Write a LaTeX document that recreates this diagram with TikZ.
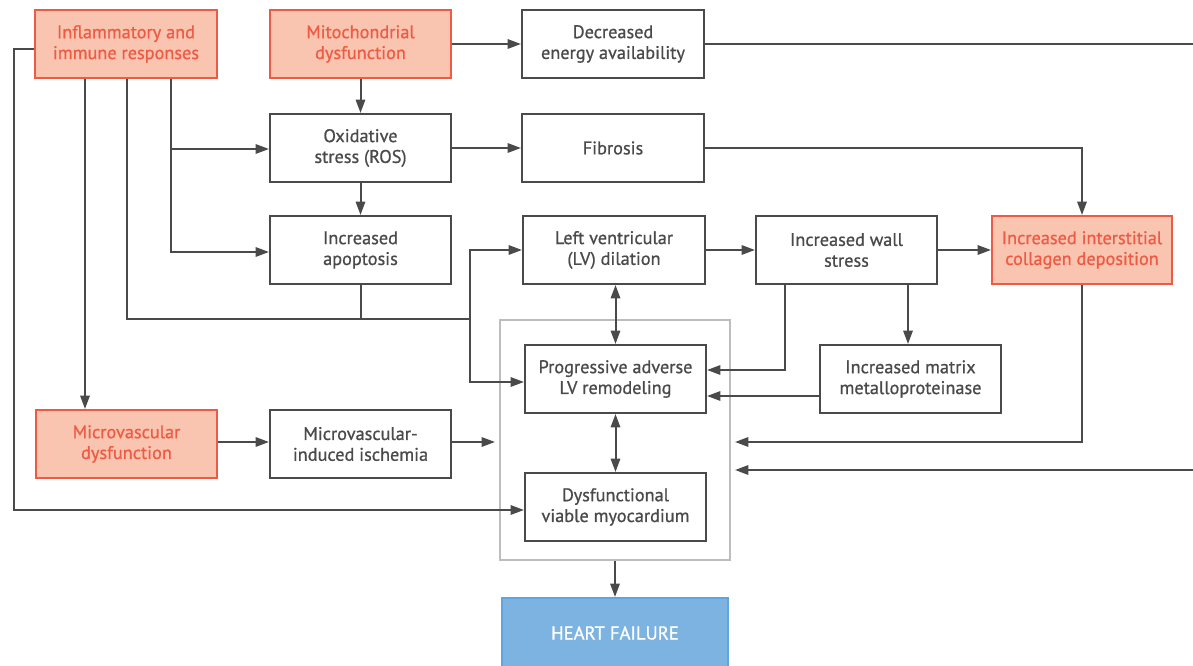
\documentclass[tikz,border=0pt]{standalone}
\usepackage{fontspec}
\setmainfont{PT Sans}[FakeBold=0.8]
\usetikzlibrary{arrows.meta,calc}
\definecolor{salfill}{HTML}{FAC5B0}
\definecolor{salline}{HTML}{EE5B45}
\definecolor{saltext}{HTML}{EE5B45}
\definecolor{dk}{HTML}{4A4A4A}
\definecolor{gbox}{HTML}{BDBDBD}
\definecolor{hffill}{HTML}{7DB3E0}
\definecolor{hfline}{HTML}{5FA5E0}
\def\px{0.75pt}
\begin{document}
\begin{tikzpicture}[x=0.75pt,y=-0.75pt,
  box/.style={draw=dk, line width=1.5pt, fill=white, text=dk, align=center,
    font=\fontsize{13.7}{15.6}\selectfont, inner sep=0pt,
    minimum width=181*\px, minimum height=68*\px},
  redbox/.style={box, draw=salline, fill=salfill, text=saltext},
  graybox/.style={draw=gbox, line width=1.5pt, inner sep=0pt,
    minimum width=230*\px, minimum height=240*\px},
  hfbox/.style={draw=hfline, line width=1.5pt, fill=hffill, text=white,
    font=\fontsize{14}{15.6}\selectfont, inner sep=0pt,
    minimum width=226*\px, minimum height=70*\px},
  conn/.style={draw=dk, line width=1.5pt},
  arr/.style={conn, -{Triangle[length=10pt,width=7pt]}},
  darr/.style={conn, {Triangle[length=10pt,width=7pt]}-{Triangle[length=10pt,width=7pt]}}
]
\useasboundingbox (0,0) rectangle (1193,666);

\node[graybox] (gray) at (615,440) {};

\node[redbox, minimum width=182*\px] (infl) at (126,44) {Inflammatory and\\immune responses};
\node[redbox] (mito) at (360.5,44) {Mitochondrial\\dysfunction};
\node[box, minimum width=182*\px] (energy) at (613,44) {Decreased\\energy availability};
\node[box] (ox) at (360.5,148) {Oxidative\\stress (ROS)};
\node[box, minimum width=182*\px] (fib) at (613,148) {Fibrosis};
\node[box] (apop) at (360.5,250) {Increased\\apoptosis};
\node[box, minimum width=182*\px] (lvd) at (614,250) {Left ventricular\\(LV) dilation};
\node[box] (wall) at (846.5,250) {Increased wall\\stress};
\node[redbox, minimum width=180*\px] (coll) at (1082,250) {Increased interstitial\\collagen deposition};
\node[box] (prog) at (615.5,379) {Progressive adverse\\LV remodeling};
\node[box] (mmp) at (910.5,379) {Increased matrix\\metalloproteinase};
\node[redbox] (mvd) at (126.5,444) {Microvascular\\dysfunction};
\node[box] (isch) at (360.5,444) {Microvascular-\\induced ischemia};
\node[box] (dvm) at (615.5,507) {Dysfunctional\\viable myocardium};
\node[hfbox] (hf) at (615,633) {HEART FAILURE};

\coordinate (eR1) at (1193,44);
\coordinate (eR2) at (1193,470);
\coordinate (j) at (470,319);

% top row
\draw[arr] (mito.east) -- (energy.west);
\draw[conn] (energy.east) -- (eR1);
\draw[arr] (mito.south) -- (ox.north);

% inflammatory branches
\draw[arr] (infl.west |- 0,49) -| (14,510) -- (dvm.west |- 0,510);
\draw[arr] (infl.south -| 85,0) -- (mvd.north -| 85,0);
\draw[conn] (infl.south -| 127,0) |- (j);
\draw[conn] (apop.south) -- (apop.south |- j);
\draw[arr] (j) |- (lvd.west);
\draw[arr] (j) |- (prog.west |- 0,382);
\draw[arr] (infl.south -| 171,0) |- (apop.west |- 0,252);
\draw[arr] (171,149) -- (ox.west |- 0,149);

% middle
\draw[arr] (ox.south) -- (apop.north);
\draw[arr] (ox.east) -- (fib.west);
\draw[arr] (fib.east) -| (coll.north);
\draw[arr] (lvd.east) -- (wall.west);
\draw[arr] (wall.east) -- (coll.west);
\draw[darr] (prog.north |- lvd.south) -- (prog.north);
\draw[arr] (wall.south -| 785,0) |- (prog.east |- 0,370);
\draw[arr] (wall.south -| 908,0) -- (mmp.north -| 908,0);
\draw[arr] (mmp.west |- 0,396) -- (prog.east |- 0,396);
\draw[arr] (coll.south) |- ($(gray.east |- 0,442)+(4,0)$);
\draw[arr] (eR2) -- ($(gray.east |- eR2)+(4,0)$);

% bottom
\draw[arr] (mvd.east |- 0,442) -- (isch.west |- 0,442);
\draw[arr] (isch.east |- 0,442) -- ($(gray.west |- 0,442)+(-4,0)$);
\draw[darr] (prog.south) -- (dvm.north);
\draw[arr] (gray.south -| hf.north) -- (hf.north);
\end{tikzpicture}
\end{document}
